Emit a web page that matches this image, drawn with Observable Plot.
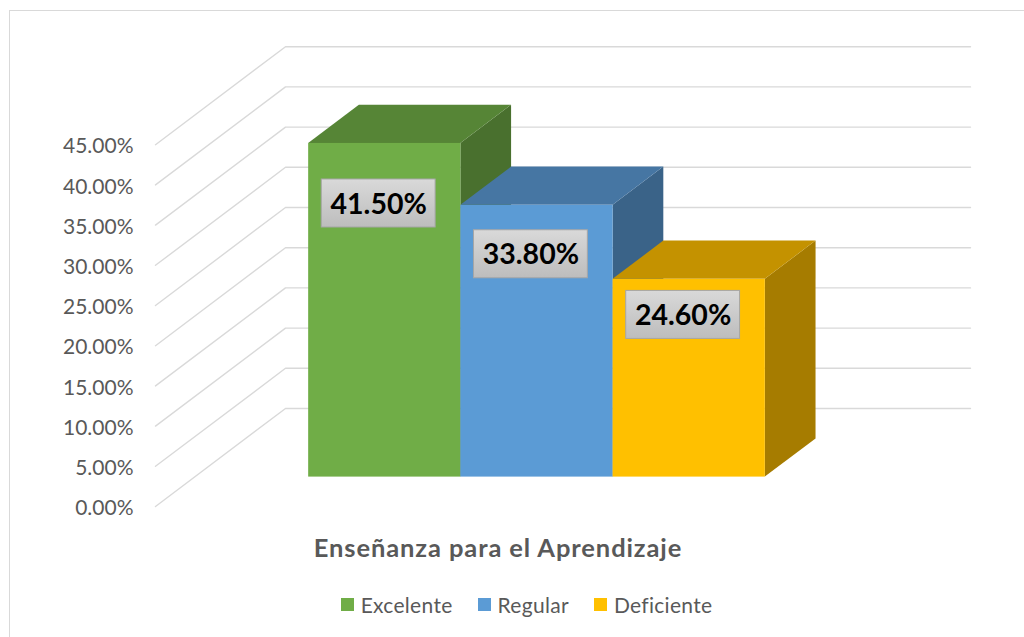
<!DOCTYPE html>
<html><head><meta charset="utf-8">
<script src="https://cdn.jsdelivr.net/npm/d3@7"></script>
<script src="https://cdn.jsdelivr.net/npm/@observablehq/plot@0.6"></script>
<style>
html,body{margin:0;padding:0;background:#fff;overflow:hidden;width:1024px;height:637px;position:relative;}
#frame{position:absolute;left:9px;top:10px;width:1100px;height:700px;border:1px solid #d9d9d9;box-sizing:border-box;}
#chart{position:absolute;left:0;top:0;}
#title{position:absolute;left:0;width:996px;top:532px;text-align:center;font-family:Lato;font-weight:bold;font-size:25.5px;letter-spacing:0.9px;color:#595959;line-height:30px;}
#legend{position:absolute;left:0;width:1053px;top:593px;height:22px;display:flex;justify-content:center;align-items:center;gap:25px;font-family:Lato;font-size:21px;letter-spacing:0.3px;color:#595959;}
#legend .item{display:flex;align-items:center;gap:7px;}
#legend .sw{width:13px;height:13px;display:inline-block;}
</style>
</head><body>
<div id="frame"></div>
<div id="chart"></div>
<div id="title"></div>
<div id="legend"></div>
<script>
// ---- data ----
const categories = ["Excelente", "Regular", "Deficiente"];
const values = [41.5, 33.8, 24.6];
const yTicks = [0, 5, 10, 15, 20, 25, 30, 35, 40, 45];
const chartTitle = "Enseñanza para el Aprendizaje";

// ---- style ----
const frontColors = ["#70AD47", "#5B9BD5", "#FFC000"];
const topColors = ["#568536", "#4676A3", "#C49200"];
const sideColors = ["#49702E", "#3A6388", "#A67C00"];

// 3D projection in data units (x: bar units, y: percent)
const GAP = 0.75, BARW = 1, XMAX = 4.5;
const DX = 0.854, DV = 12.19;       // full depth offset
const D0 = 0.3, D1 = 0.69;          // bar depth span
const P = (x, v, d) => ({x: x + d * DX, y: v + d * DV});

const gridPts = yTicks.flatMap(v => [
  {v, ...P(0, v, 0)}, {v, ...P(0, v, 1)}, {v, ...P(XMAX, v, 1)}
]);

const bars = categories.map((c, i) => {
  const L = GAP + i * BARW, R = L + BARW, v = values[i];
  return {i, c, v, L, R};
});

const fronts = bars.map(b => ({
  x1: P(b.L, 0, D0).x, x2: P(b.R, 0, D0).x,
  y1: P(0, 0, D0).y, y2: P(0, b.v, D0).y, fill: frontColors[b.i]
}));
const sidePts = bars.flatMap(b => [
  {i: b.i, x: P(b.R, 0, D0).x, y1: P(0, 0, D0).y, y2: P(0, b.v, D0).y, fill: sideColors[b.i]},
  {i: b.i, x: P(b.R, 0, D1).x, y1: P(0, 0, D1).y, y2: P(0, b.v, D1).y, fill: sideColors[b.i]}
]);
const topPts = bars.flatMap(b => [
  {i: b.i, y: P(0, b.v, D0).y, x1: P(b.L, 0, D0).x, x2: P(b.R, 0, D0).x, fill: topColors[b.i]},
  {i: b.i, y: P(0, b.v, D1).y, x1: P(b.L, 0, D1).x, x2: P(b.R, 0, D1).x, fill: topColors[b.i]}
]);
const labels = bars.map(b => ({
  v: b.v,
  x: P((b.L + b.R) / 2 - 0.04, 0, D0).x,
  y: P(0, 0.82 * b.v, D0).y
}));
const LBW = 0.374, LBH = 2.985;

const plot = Plot.plot({
  width: 1024,
  height: 520,
  marginLeft: 155,
  marginRight: 184,
  marginTop: 144.2,
  marginBottom: 14,
  x: {type: "linear", domain: [0, XMAX], axis: null},
  y: {type: "linear", domain: [0, 45], axis: null},
  color: {type: "identity"},
  style: {fontFamily: "Lato", fontSize: "21px", color: "#595959", background: "transparent", overflow: "visible"},
  marks: [
    Plot.line(gridPts, {x: "x", y: "y", z: "v", stroke: "#d9d9d9", strokeWidth: 1.4}),
    Plot.area(sidePts, {x1: "x", y1: "y1", y2: "y2", z: "i", fill: "fill"}),
    Plot.area(topPts, {x1: "x1", x2: "x2", y1: "y", z: "i", fill: "fill"}),
    Plot.rect(fronts, {x1: "x1", x2: "x2", y1: "y1", y2: "y2", fill: "fill"}),
    Plot.rect(labels, {x1: d => d.x - LBW, x2: d => d.x + LBW, y1: d => d.y - LBH, y2: d => d.y + LBH,
      fill: "url(#lblgrad)", stroke: "#a6a6a6", strokeWidth: 1}),
    Plot.text(labels, {x: "x", y: "y", text: d => d.v.toFixed(2) + "%", fontSize: 28.5, fontWeight: "bold",
      fill: "#000", fontFamily: "Lato", dy: 1}),
    Plot.axisY(yTicks, {anchor: "left", tickSize: 0, tickPadding: 22, dy: 2,
      tickFormat: d => d.toFixed(2) + "%", fill: "#595959"})
  ]
});

const ns = "http://www.w3.org/2000/svg";
const defs = document.createElementNS(ns, "defs");
defs.innerHTML = '<linearGradient id="lblgrad" x1="0" y1="0" x2="0" y2="1">' +
  '<stop offset="0" stop-color="#d9d9d9"/><stop offset="1" stop-color="#bdbdbd"/></linearGradient>';
plot.insertBefore(defs, plot.firstChild);
document.getElementById("chart").appendChild(plot);

document.getElementById("title").textContent = chartTitle;
const legend = document.getElementById("legend");
categories.forEach((c, i) => {
  const item = document.createElement("div");
  item.className = "item";
  const sw = document.createElement("span");
  sw.className = "sw";
  sw.style.background = frontColors[i];
  const t = document.createElement("span");
  t.textContent = c;
  item.appendChild(sw); item.appendChild(t);
  legend.appendChild(item);
});
</script>
</body></html>
